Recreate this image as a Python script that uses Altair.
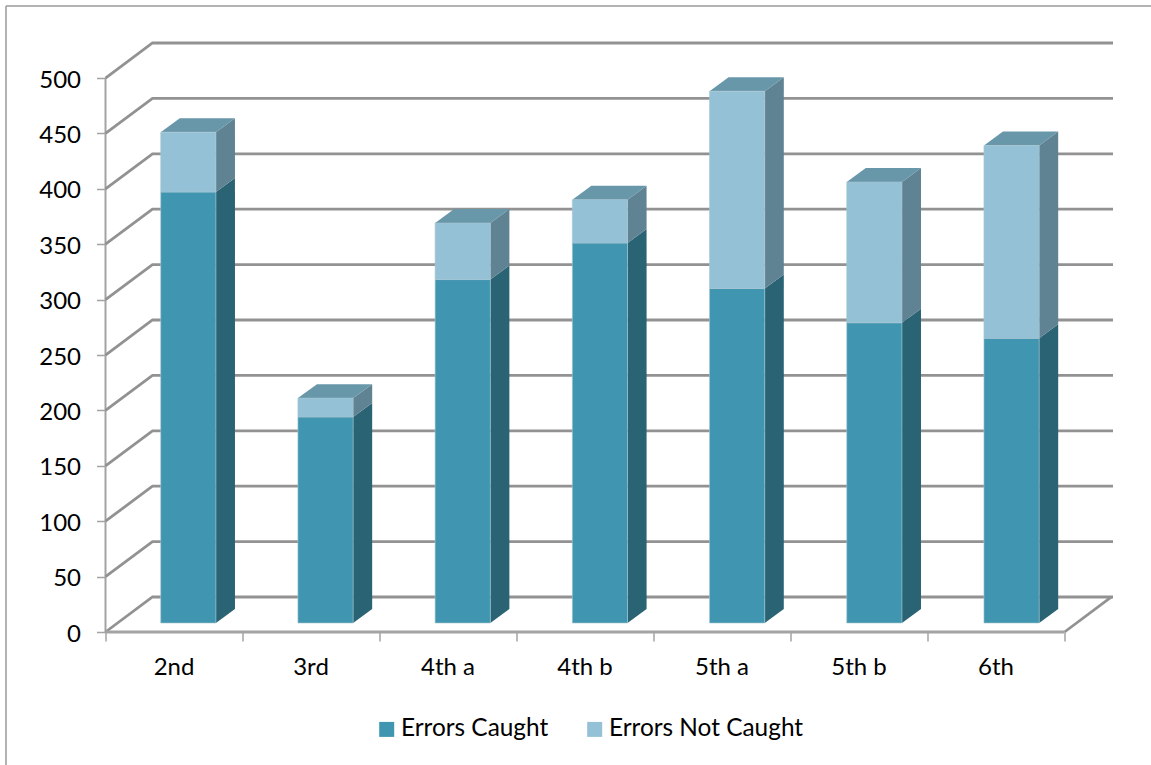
import altair as alt
import pandas as pd

# Grades and the error counts stacked in each column
grades = ["2nd", "3rd", "4th a", "4th b", "5th a", "5th b", "6th"]
errors_caught = [389, 186, 310, 343, 302, 271, 257]
errors_not_caught = [54, 17, 51, 39, 178, 127, 174]
value_ticks = list(range(0, 501, 50))

CAUGHT = "Errors Caught"
MISSED = "Errors Not Caught"

# Projection constants of the pseudo-3D box, in axis units
X_MAX = 7.354
Y_MAX = 531.6
WALL_DX, WALL_DY = 0.343, 31.6
BAR_LEFT, BAR_WIDTH, BAR_PITCH = 0.403, 0.403, 1.0015
BAR_DX, BAR_DY = 0.139, 12.6
BAR_BASE = 8.1

GRID = "#929292"
AXIS = "#a3a3a3"
FONT = "Lato"
FONT_SIZE = 24

x_scale = alt.Scale(domain=[0, X_MAX], nice=False, zero=False)
y_scale = alt.Scale(domain=[0, Y_MAX], nice=False, zero=False)
x_axis = alt.Axis(values=list(range(0, 8)), labels=False, title=None, domain=False, grid=False,
                  tickColor=AXIS, tickSize=9, tickWidth=1.5, orient="bottom")
y_axis = alt.Axis(values=value_ticks, title=None, domain=False, grid=False, tickColor=AXIS,
                  tickSize=9, tickWidth=1.5, labelFont=FONT, labelFontSize=FONT_SIZE,
                  labelColor="black", labelPadding=16, labelOffset=2, orient="left")


def qx(field):
    return alt.X(field, type="quantitative", scale=x_scale, axis=x_axis)


def qy(field):
    return alt.Y(field, type="quantitative", scale=y_scale, axis=y_axis)


# One record per stacked segment
segments = []
for i, (grade, low, high) in enumerate(zip(grades, errors_caught, errors_not_caught)):
    left = i * BAR_PITCH + BAR_LEFT
    right = left + BAR_WIDTH
    segments.append(dict(grade=grade, series=CAUGHT, left=left, right=right,
                         lo=BAR_BASE, hi=BAR_BASE + low))
    segments.append(dict(grade=grade, series=MISSED, left=left, right=right,
                         lo=BAR_BASE + low, hi=BAR_BASE + low + high))
seg_df = pd.DataFrame(segments)

# Right-hand faces: a sheared band between the front edge and the rear edge
side_rows = []
for s in segments:
    side_rows.append(dict(key=s["grade"] + s["series"], series=s["series"],
                          x=s["right"], lo=s["lo"], hi=s["hi"]))
    side_rows.append(dict(key=s["grade"] + s["series"], series=s["series"],
                          x=s["right"] + BAR_DX, lo=s["lo"] + BAR_DY, hi=s["hi"] + BAR_DY))
side_df = pd.DataFrame(side_rows)

# Top faces, swept upward from the front edge to the rear edge
top_rows = []
for s in segments:
    if s["series"] == MISSED:
        top_rows.append(dict(key=s["grade"], y=s["hi"], x1=s["left"], x2=s["right"]))
        top_rows.append(dict(key=s["grade"], y=s["hi"] + BAR_DY,
                             x1=s["left"] + BAR_DX, x2=s["right"] + BAR_DX))
top_df = pd.DataFrame(top_rows)

# Side-wall and back-wall gridlines
grid_rows = []
for v in value_ticks:
    grid_rows.append(dict(level=v, x=0, y=v))
    grid_rows.append(dict(level=v, x=WALL_DX, y=v + WALL_DY))
    grid_rows.append(dict(level=v, x=X_MAX, y=v + WALL_DY))
grid_df = pd.DataFrame(grid_rows)

grid = alt.Chart(grid_df).mark_line(color=GRID, strokeWidth=2.8, strokeCap="butt").encode(
    x=qx("x"), y=qy("y"), detail="level:N", order="x:Q"
)

# Floor edge on the right-hand side, and the front edge along the category axis
floor_side = alt.Chart(pd.DataFrame({"x": [7, 7 + WALL_DX], "y": [0, WALL_DY]})).mark_line(
    color=GRID, strokeWidth=2.8
).encode(x=qx("x"), y=qy("y"))
floor_front = alt.Chart(pd.DataFrame({"x": [0], "x2": [7], "y": [0]})).mark_rule(
    color=AXIS, strokeWidth=2.8
).encode(x=qx("x"), x2="x2:Q", y=qy("y"))

# Vertical axis line, stopping at the last labelled value
axis_line = alt.Chart(pd.DataFrame({"x": [0], "lo": [0], "hi": [500]})).mark_rule(
    color=AXIS, strokeWidth=2
).encode(x=qx("x"), y=qy("lo"), y2="hi:Q")

labels = alt.Chart(pd.DataFrame({"grade": grades, "x": [i + 0.5 for i in range(len(grades))], "y": [0] * len(grades)})).mark_text(
    font=FONT, fontSize=FONT_SIZE, color="black", dy=36
).encode(x=qx("x"), y=qy("y"), text="grade:N")


def side_layer(series, colour):
    return alt.Chart(side_df[side_df.series == series]).mark_area(color=colour, opacity=1).encode(
        x=qx("x"), y=qy("lo"), y2="hi:Q", detail="key:N"
    )


sides = [side_layer(CAUGHT, "#2a6374"), side_layer(MISSED, "#5f8392")]

tops = alt.Chart(top_df).mark_area(color="#6997aa", orient="horizontal", opacity=1).encode(
    y=qy("y"), x=qx("x1"), x2="x2:Q", detail="key:N"
)

fronts = alt.Chart(seg_df).mark_bar(stroke="#a8c6d2", strokeWidth=0.6, opacity=1).encode(
    x=qx("left"), x2="right:Q", y=qy("lo"), y2="hi:Q",
    color=alt.Color("series:N", scale=alt.Scale(domain=[CAUGHT, MISSED], range=["#4096b0", "#94c1d6"]),
                    legend=alt.Legend(
                        orient="none", legendX=269, legendY=674, direction="horizontal", title=None,
                        symbolType="square", symbolSize=225, symbolStrokeWidth=0, symbolOpacity=1,
                        labelFont=FONT, labelFontSize=24.4, labelColor="black", labelOffset=2,
                        labelLimit=400, columnPadding=34, columns=2)),
)

# Outer frame of the chart, open on the right and at the bottom
frame_top = alt.Chart(pd.DataFrame({"k": [0]})).mark_rule(color="#9a9a9a", strokeWidth=1.5).encode(
    x=alt.value(-99.5), x2=alt.value(1046), y=alt.value(-37)
)
frame_left = alt.Chart(pd.DataFrame({"k": [0]})).mark_rule(color="#9a9a9a", strokeWidth=1.5).encode(
    x=alt.value(-99.5), y=alt.value(-37), y2=alt.value(722)
)

chart = alt.layer(
    frame_top, frame_left, axis_line, grid, floor_side, floor_front, *sides, tops, fronts, labels
).properties(
    width=1007.5, height=589,
    padding={"left": 105.5, "top": 43, "right": 38, "bottom": 133},
    autosize=alt.AutoSizeParams(type="none"),
    background="white",
).configure_view(stroke=None)

chart.save("out.html", embed_options={"renderer": "svg", "actions": False})
